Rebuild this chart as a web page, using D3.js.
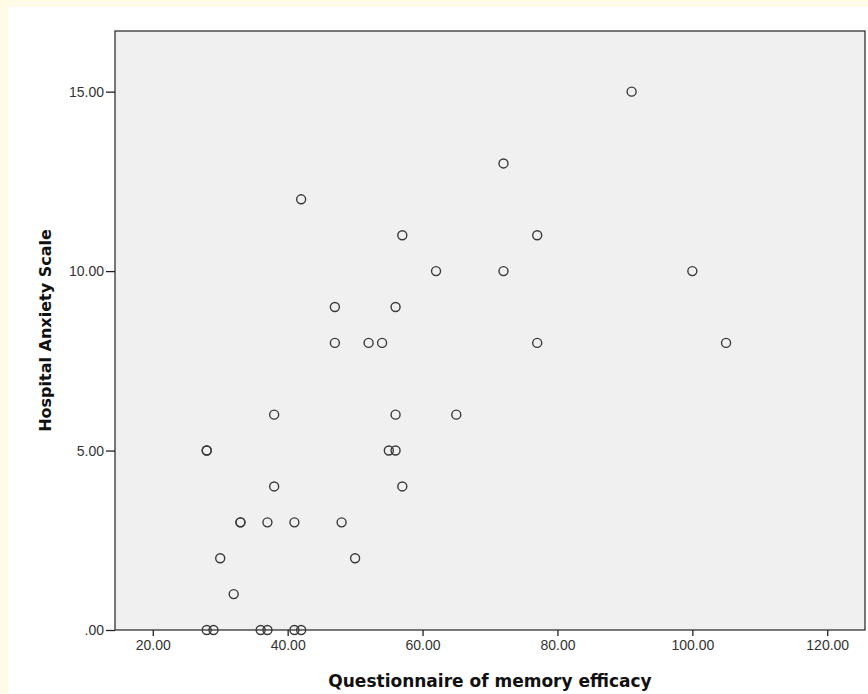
<!DOCTYPE html>
<html>
<head>
<meta charset="utf-8">
<script src="https://cdn.jsdelivr.net/npm/d3@7"></script>
<style>
  html, body { margin: 0; padding: 0; background: #fffbe6; }
  svg { display: block; }
</style>
</head>
<body>
<svg id="chart" width="868" height="694"></svg>
<script>
// Questionnaire of memory efficacy (x) vs Hospital Anxiety Scale (y)
const memoryEfficacy = [
  91, 72, 42, 57, 77, 62, 72, 100, 47, 56, 47, 52, 54, 77, 105,
  38, 56, 65, 28, 28, 55, 56, 38, 57, 33, 33, 37, 41, 48, 30, 50, 32,
  28, 29, 36, 37, 41, 42
];
const anxietyScale = [
  15, 13, 12, 11, 11, 10, 10, 10, 9, 9, 8, 8, 8, 8, 8,
  6, 6, 6, 5, 5, 5, 5, 4, 4, 3, 3, 3, 3, 3, 2, 2, 1,
  0, 0, 0, 0, 0, 0
];
const xTicks = [20, 40, 60, 80, 100, 120];
const yTicks = [0, 5, 10, 15];

const svg = d3.select('#chart');
const W = 868, H = 694;

// white panel over the pale yellow page
svg.append('rect').attr('x', 8).attr('y', 7).attr('width', W - 8).attr('height', H - 7).attr('fill', '#ffffff');

const plot = { left: 115, top: 31, right: 865, bottom: 630 };

const x = d3.scaleLinear().domain([14.4, 125.6]).range([plot.left, plot.right]);
const y = d3.scaleLinear().domain([0, 16.69]).range([plot.bottom, plot.top]);

svg.append('rect')
  .attr('x', plot.left).attr('y', plot.top)
  .attr('width', plot.right - plot.left).attr('height', plot.bottom - plot.top)
  .attr('fill', '#f0f0f0').attr('stroke', '#222').attr('stroke-width', 1.2);

const fmt = d => d === 0 ? '.00' : d3.format('.2f')(d);

// x axis
const xAxis = svg.append('g')
  .attr('transform', `translate(0,${plot.bottom})`)
  .call(d3.axisBottom(x).tickValues(xTicks).tickFormat(fmt).tickSize(6).tickPadding(4));
xAxis.select('.domain').remove();

// y axis
const yAxis = svg.append('g')
  .attr('transform', `translate(${plot.left},0)`)
  .call(d3.axisLeft(y).tickValues(yTicks).tickFormat(fmt).tickSize(9).tickPadding(2));
yAxis.select('.domain').remove();

svg.selectAll('.tick line').attr('stroke', '#222').attr('stroke-width', 1.3);
svg.selectAll('.tick text')
  .attr('fill', '#333')
  .style('font-family', '"Liberation Sans", Arial, sans-serif')
  .style('font-size', '14px');

// axis titles
svg.append('text')
  .attr('x', (plot.left + plot.right) / 2).attr('y', 687)
  .attr('text-anchor', 'middle')
  .style('font-family', '"DejaVu Sans", Verdana, sans-serif')
  .style('font-size', '17px').style('font-weight', 'bold')
  .attr('fill', '#111')
  .text('Questionnaire of memory efficacy');

svg.append('text')
  .attr('transform', `translate(51,${(plot.top + plot.bottom) / 2}) rotate(-90)`)
  .attr('text-anchor', 'middle')
  .style('font-family', '"DejaVu Sans", Verdana, sans-serif')
  .style('font-size', '16px').style('font-weight', 'bold')
  .attr('fill', '#111')
  .text('Hospital Anxiety Scale');

// points
const points = memoryEfficacy.map((v, i) => ({ x: v, y: anxietyScale[i] }));
svg.append('g').selectAll('circle')
  .data(points).enter()
  .append('circle')
  .attr('cx', d => x(d.x))
  .attr('cy', d => y(d.y))
  .attr('r', 4.5)
  .attr('fill', 'none')
  .attr('stroke', '#3a3a3a')
  .attr('stroke-width', 1.4);
</script>
</body>
</html>
